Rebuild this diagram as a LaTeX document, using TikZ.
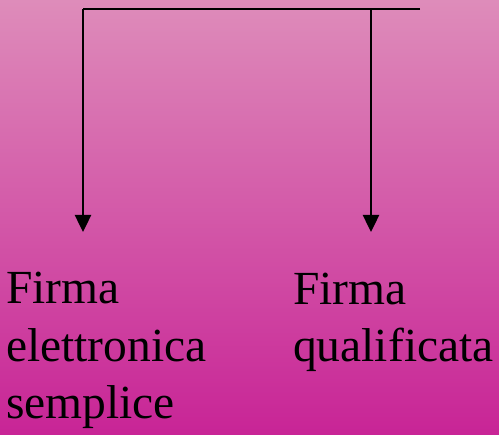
\documentclass[tikz,border=0pt]{standalone}
\usepackage{fontspec}
\setmainfont{Liberation Serif}
\usetikzlibrary{arrows.meta}
\definecolor{bgtop}{RGB}{222,140,186}
\definecolor{bgbot}{RGB}{200,36,150}
\tikzset{
  link/.style={line width=2.5pt, draw=black},
  arr/.style={link, -{Triangle[width=16pt,length=17pt]}},
  label/.style={font=\fontsize{47.5}{57.5}\selectfont, align=left, inner sep=0pt, anchor=base west, text=black}
}
\begin{document}
\begin{tikzpicture}[x=1pt,y=1pt]
\useasboundingbox (0,0) rectangle (499,435);
\shade[top color=bgtop, bottom color=bgbot] (0,0) rectangle (499,435);
\coordinate (tl) at (83,426);
\coordinate (tr) at (420,426);
\coordinate (tm) at (371,426);
\coordinate (a1) at (83,203);
\coordinate (a2) at (371,203);
\node[label] (n1) at (6,16) {Firma\\elettronica\\semplice};
\node[label] (n2) at (293,73) {Firma\\qualificata};
\draw[link] (tr) -- (tl);
\draw[arr] (tl) -- (a1);
\draw[arr] (tm) -- (a2);
\end{tikzpicture}
\end{document}
